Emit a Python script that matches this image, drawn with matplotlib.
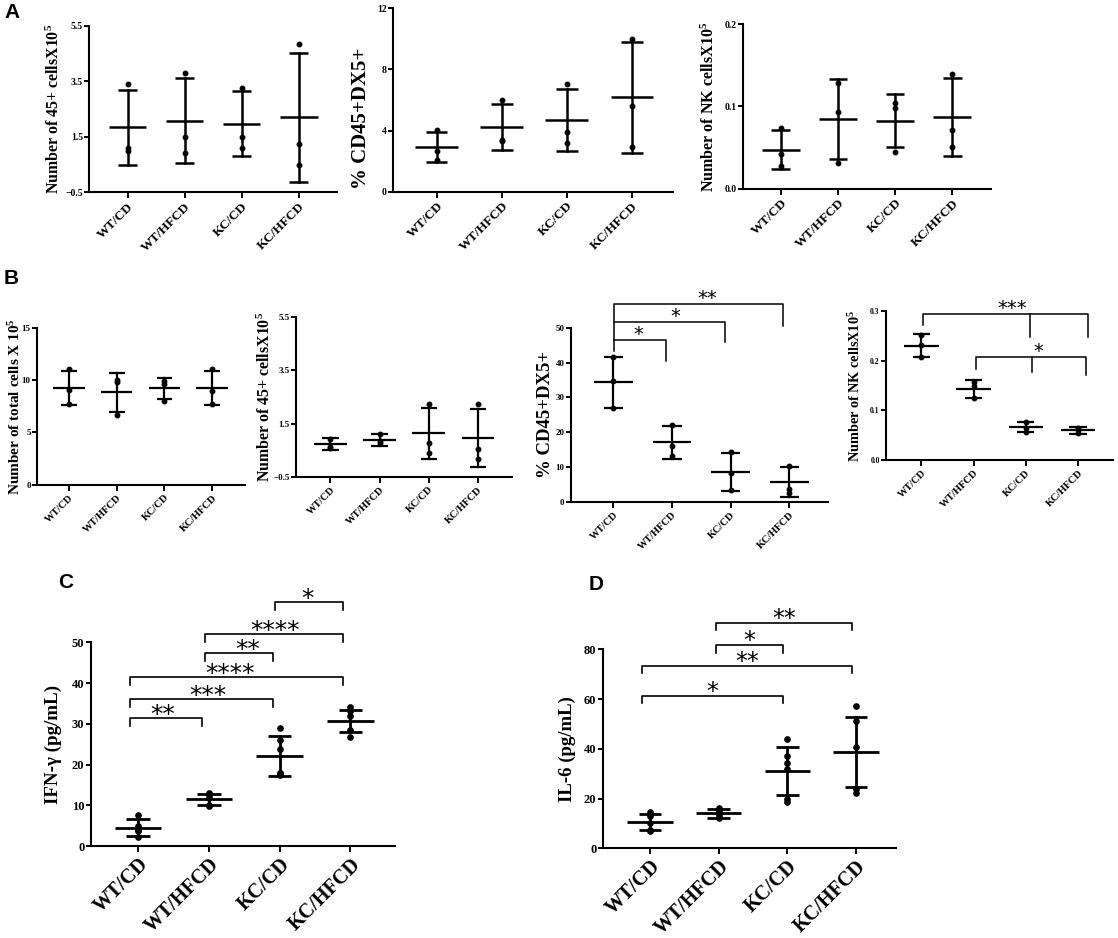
import numpy as np
import matplotlib.pyplot as plt

plt.rcParams['font.family'] = ['Liberation Serif', 'DejaVu Serif']
plt.rcParams['font.weight'] = 'bold'
plt.rcParams['mathtext.fontset'] = 'custom'
plt.rcParams['mathtext.rm'] = 'Liberation Serif:bold'
plt.rcParams['mathtext.default'] = 'rm'

W, H = 1118, 938
groups = ['WT/CD', 'WT/HFCD', 'KC/CD', 'KC/HFCD']

# --- data ---
# panel A
a1_pts = [[3.42, 1.00, 1.11], [3.81, 1.50, 0.90], [3.28, 1.50, 1.10], [4.84, 1.26, 0.50]]
a1_mean = [1.84, 2.08, 1.97, 2.20]
a1_sd = [1.36, 1.53, 1.17, 2.32]

a2_pts = [[4.01, 2.68, 2.07], [6.02, 3.29, 3.40], [7.03, 3.91, 3.19], [10.02, 5.59, 2.92]]
a2_mean = [2.92, 4.23, 4.71, 6.17]
a2_sd = [0.99, 1.53, 2.03, 3.61]

a3_pts = [[0.0734, 0.042, 0.028], [0.1286, 0.0937, 0.0308], [0.1043, 0.0986, 0.045], [0.140, 0.0714, 0.0507]]
a3_mean = [0.0475, 0.0848, 0.0828, 0.0872]
a3_sd = [0.024, 0.049, 0.032, 0.047]

# panel B
b1_pts = [[11.02, 9.04, 7.68], [10.0, 9.81, 6.69], [9.94, 9.59, 7.99], [11.02, 8.95, 7.68]]
b1_mean = [9.27, 8.82, 9.20, 9.27]
b1_sd = [1.62, 1.87, 1.03, 1.62]

b2_pts = [[0.93, 0.62, 0.58], [1.09, 0.83, 0.77], [2.22, 0.76, 0.40], [2.22, 0.55, 0.18]]
b2_mean = [0.73, 0.88, 1.13, 0.97]
b2_sd = [0.21, 0.21, 0.97, 1.09]

b3_pts = [[41.5, 34.6, 27.0], [22.2, 16.0, 13.2], [14.3, 8.3, 3.3], [10.3, 3.6, 2.7]]
b3_mean = [34.3, 17.1, 8.6, 5.7]
b3_sd = [7.3, 4.7, 5.4, 4.2]

b4_pts = [[0.251, 0.231, 0.207], [0.158, 0.149, 0.124], [0.076, 0.064, 0.057], [0.065, 0.060, 0.054]]
b4_mean = [0.230, 0.143, 0.067, 0.0595]
b4_sd = [0.023, 0.018, 0.010, 0.0065]

# panel C  IFN-gamma
c_pts = [[7.5, 5.0, 4.0, 3.8, 2.2],
         [12.9, 12.5, 11.7, 10.1, 9.9],
         [28.9, 26.0, 23.8, 18.0, 17.8, 17.5],
         [34.0, 33.2, 31.9, 28.5, 26.8]]
c_mean = [4.5, 11.46, 22.1, 30.7]
c_sd = [2.05, 1.35, 5.0, 2.8]

# panel D  IL-6
d_pts = [[14.5, 13.0, 10.3, 7.4, 7.0],
         [16.1, 15.1, 14.1, 13.0, 12.1],
         [43.8, 37.1, 34.2, 31.9, 19.8, 18.8],
         [57.2, 51.3, 40.6, 24.0, 22.1]]
d_mean = [10.45, 14.07, 31.1, 38.7]
d_sd = [3.15, 1.75, 9.7, 13.95]

# significance comparisons (group i, group j, label)
c_sig = [(0, 1, '**'), (0, 2, '***'), (0, 3, '****'), (1, 2, '**'), (1, 3, '****'), (2, 3, '*')]
c_sig_y = [31.3, 36.0, 41.4, 47.3, 52.0, 59.8]
c_sig_tx = [0.35, 0.99, 1.30, 1.55, 1.93, 2.39]
d_sig = [(0, 2, '*'), (0, 3, '**'), (1, 2, '*'), (1, 3, '**')]
d_sig_y = [61.2, 73.3, 81.6, 90.5]
b3_sig = [(0, 1, '*'), (0, 2, '*'), (0, 3, '**')]
b3_sig_y = [46.4, 51.5, 56.8]
b3_sig_tx = [0.43, 1.06, 1.60]


fig = plt.figure(figsize=(W / 100, H / 100), dpi=100)


def px_axes(l, t, r, b):
    return fig.add_axes([l / W, 1 - b / H, (r - l) / W, (b - t) / H])


def dot_plot(ax, pts, mean, sd, xlim, ylim, yticks, ylabel, lab_x, lab_y=0.5,
             ylab_fs=10, ytick_fs=7, xtick_fs=9.5, fmt=None, lw=1.8, ms=3.2):
    for i, (p, m, s) in enumerate(zip(pts, mean, sd)):
        ax.plot([i - 0.33, i + 0.33], [m, m], color='black', lw=lw, solid_capstyle='butt')
        ax.plot([i, i], [m - s, m + s], color='black', lw=lw)
        for y in (m - s, m + s):
            ax.plot([i - 0.165, i + 0.165], [y, y], color='black', lw=lw, solid_capstyle='butt')
        ax.plot([i] * len(p), p, 'o', color='black', ms=ms, zorder=3)
    ax.set_xlim(*xlim)
    ax.set_ylim(*ylim)
    ax.set_yticks(yticks)
    if fmt:
        ax.set_yticklabels([fmt % v for v in yticks])
    ax.set_xticks(range(len(groups)))
    ax.set_xticklabels(groups, rotation=45, ha='right', rotation_mode='anchor',
                       fontsize=xtick_fs, fontweight='bold')
    for s in ['top', 'right']:
        ax.spines[s].set_visible(False)
    for s in ['left', 'bottom']:
        ax.spines[s].set_linewidth(1.5)
    ax.tick_params(axis='y', labelsize=ytick_fs, width=1.4, length=3.5, pad=1)
    ax.tick_params(axis='x', width=1.4, length=4, pad=2)
    ax.set_ylabel(ylabel, fontsize=ylab_fs, fontweight='bold', va='center')
    ax.yaxis.set_label_coords(lab_x, lab_y)


def ax_x(ax, px):
    # pixel x -> axes fraction
    bb = ax.get_position()
    return (px / W - bb.x0) / bb.width


def stars(ax, x, y, label, fs, dy):
    ax.annotate(label, (x, y), xytext=(0, dy), textcoords='offset points',
                ha='center', va='baseline', fontsize=fs, family='DejaVu Sans',
                fontweight='normal', annotation_clip=False)


def bracket(ax, x1, x2, y, drop_l, drop_r, lw=1.2):
    ax.plot([x1, x1, x2, x2], [y - drop_l, y, y, y - drop_r], color='black', lw=lw,
            clip_on=False)


# ---- panel A ----
ax = px_axes(89.3, 26, 337.5, 192.3)
dot_plot(ax, a1_pts, a1_mean, a1_sd, (-0.67, 3.68), (-0.5, 5.5), [-0.5, 1.5, 3.5, 5.5],
         'Number of 45+ cellsX10$^5$', ax_x(ax, 54), ylab_fs=11.4)

ax = px_axes(392.7, 8.3, 673, 191.7)
dot_plot(ax, a2_pts, a2_mean, a2_sd, (-0.676, 3.63), (0, 12), [0, 4, 8, 12],
         '% CD45+DX5+', ax_x(ax, 361), lab_y=0.40, ylab_fs=15)

ax = px_axes(742.6, 24.3, 991, 188.7)
dot_plot(ax, a3_pts, a3_mean, a3_sd, (-0.67, 3.68), (0, 0.2), [0.0, 0.1, 0.2],
         'Number of NK cellsX10$^5$', ax_x(ax, 709), ylab_fs=11.5, fmt='%.1f')

# ---- panel B ----
ax = px_axes(37, 327.7, 245, 484.7)
dot_plot(ax, b1_pts, b1_mean, b1_sd, (-0.67, 3.69), (0, 15), [0, 5, 10, 15],
         'Number of total cells X 10$^5$', ax_x(ax, 15), ylab_fs=11, ytick_fs=6.5,
         xtick_fs=7.5, lw=1.6)

ax = px_axes(296, 317.3, 511.7, 476.7)
dot_plot(ax, b2_pts, b2_mean, b2_sd, (-0.70, 3.69), (-0.5, 5.5), [-0.5, 1.5, 3.5, 5.5],
         'Number of 45+ cellsX10$^5$', ax_x(ax, 265), ylab_fs=11.4, ytick_fs=6.5,
         xtick_fs=7.5, lw=1.6)

ax = px_axes(570.7, 327.7, 828, 502)
dot_plot(ax, b3_pts, b3_mean, b3_sd, (-0.73, 3.66), (0, 50), [0, 10, 20, 30, 40, 50],
         '% CD45+DX5+', ax_x(ax, 545), ylab_fs=13.5, ytick_fs=6.5, xtick_fs=7.5, lw=1.6)
b3_drop_l = [3.0, 5.1, 5.3]
b3_drop_r = [6.0, 5.5, 6.2]
for (i, j, lab), y, dl, dr, tx in zip(b3_sig, b3_sig_y, b3_drop_l, b3_drop_r, b3_sig_tx):
    bracket(ax, i + 0.01, j - 0.1, y, dl, dr, lw=1.1)
    stars(ax, tx, y, lab, 14, 0)

ax = px_axes(886, 311, 1113, 460)
dot_plot(ax, b4_pts, b4_mean, b4_sd, (-0.68, 3.67), (0, 0.3), [0.0, 0.1, 0.2, 0.3],
         'Number of NK cellsX10$^5$', ax_x(ax, 855), ylab_fs=10.3, ytick_fs=5.5,
         xtick_fs=7.5, fmt='%.1f', lw=1.6)
# grouped brackets
bracket(ax, 0.035, 3.2, 0.2946, 0.0236, 0.0466, lw=1.1)
ax.plot([2.08, 2.08], [0.2946, 0.248], color='black', lw=1.1, clip_on=False)
stars(ax, 1.73, 0.2946, '***', 14, 0)
bracket(ax, 1.04, 3.16, 0.2078, 0.0238, 0.0368, lw=1.1)
ax.plot([2.12, 2.12], [0.2078, 0.178], color='black', lw=1.1, clip_on=False)
stars(ax, 2.24, 0.2078, '*', 14, 0)

# ---- panel C ----
ax = px_axes(90.7, 642.3, 395, 846)
dot_plot(ax, c_pts, c_mean, c_sd, (-0.67, 3.63), (0, 50), [0, 10, 20, 30, 40, 50],
         'IFN-γ (pg/mL)', ax_x(ax, 53), ylab_fs=13.7, ytick_fs=9, xtick_fs=14.5, lw=2.0,
         ms=3.8)
for (i, j, lab), y, tx in zip(c_sig, c_sig_y, c_sig_tx):
    x1 = i - 0.12 if i == 0 else i - 0.06
    bracket(ax, x1, j - 0.1, y, 1.9, 1.9)
    stars(ax, tx, y, lab, 18, -2.5)

# ---- panel D ----
ax = px_axes(602.7, 649.3, 896, 848.3)
dot_plot(ax, d_pts, d_mean, d_sd, (-0.69, 3.58), (0, 80), [0, 20, 40, 60, 80],
         'IL-6 (pg/mL)', ax_x(ax, 567), ylab_fs=13.5, ytick_fs=9, xtick_fs=14.5, lw=2.0,
         ms=3.8)
for (i, j, lab), y in zip(d_sig, d_sig_y):
    x1 = i - 0.12 if i == 0 else i - 0.04
    x2 = j - 0.06
    bracket(ax, x1, x2, y, 2.9, 2.9)
    stars(ax, (x1 + x2) / 2, y, lab, 17, -2)

# panel letters
for lab, x, y in [('A', 4, 13), ('B', 4, 278), ('C', 58, 583), ('D', 589, 584)]:
    fig.text(x / W, 1 - y / H, lab, ha='left', va='center', fontsize=15,
             family='Liberation Sans', fontweight='bold')

fig.savefig('out.png', dpi=100)
